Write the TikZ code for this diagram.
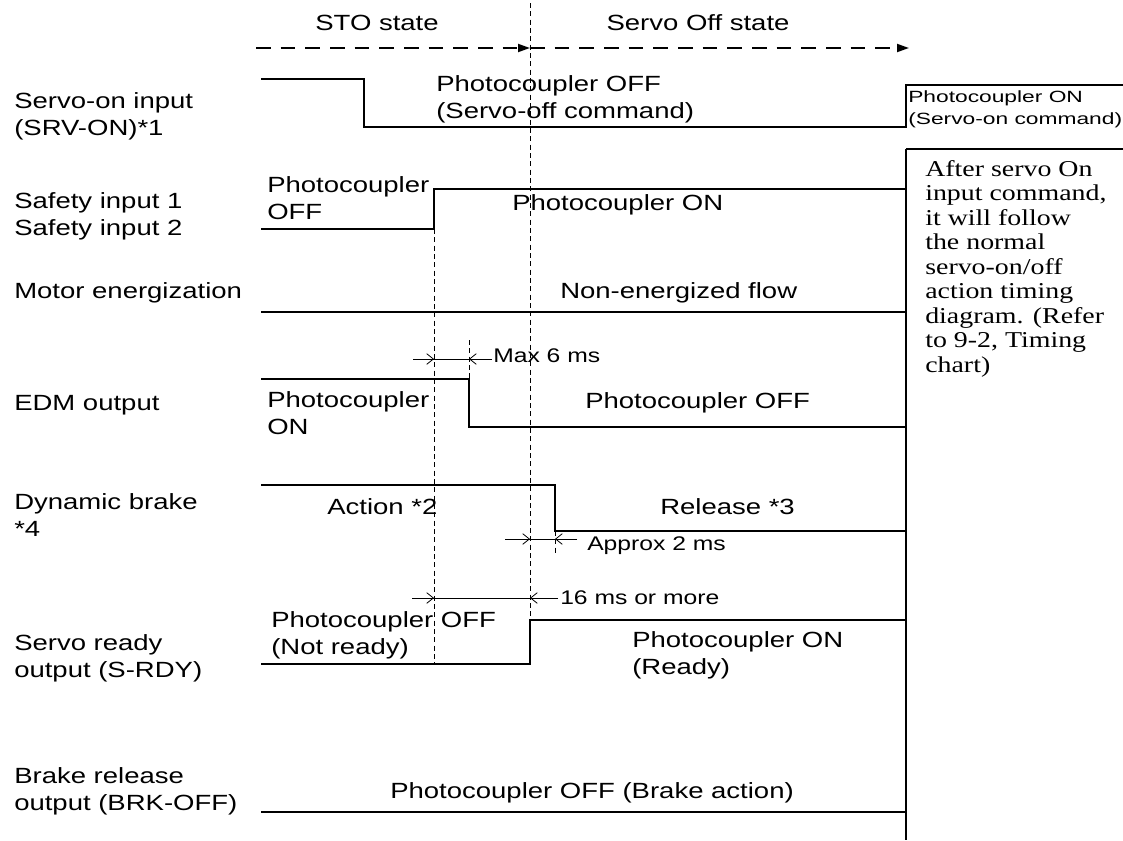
\documentclass[tikz,border=0pt]{standalone}
\usepackage{fontspec}
\setmainfont{Liberation Sans}[FakeStretch=1.25]
\newfontfamily\notefont{Liberation Serif}[FakeStretch=1.23]
\newfontfamily\cmdfont{Liberation Sans}[FakeStretch=1.4]
\usepackage{tikz}
\usetikzlibrary{arrows.meta}

\begin{document}
\begin{tikzpicture}[
    x=0.75pt, y=-0.75pt,
    sig/.style={line width=1.4pt},
    guide/.style={line width=0.6pt, dash pattern=on 3.75pt off 2.5pt},
    stateline/.style={line width=1.4pt, dash pattern=on 11pt off 7.5pt,
                      -{Triangle[length=9pt,width=6pt]}},
    dim/.style={line width=0.6pt},
    dimtip/.style={line width=0.6pt, -{Straight Barb[length=5pt,width=8pt]}},
    lbl/.style={anchor=west, inner sep=0pt, align=left,
                font=\fontsize{16.5}{20.25}\selectfont},
    small/.style={anchor=west, inner sep=0pt, font=\fontsize{14.8}{18}\selectfont},
    cmd/.style={anchor=west, inner sep=0pt, align=left,
                font=\cmdfont\fontsize{12.2}{16.5}\selectfont},
    note/.style={anchor=north west, inner sep=0pt, align=left,
                 font=\notefont\fontsize{17}{18.4}\selectfont}
]
\useasboundingbox (0,0) rectangle (1123,840);

% state arrows
\coordinate (s0) at (256,48);
\coordinate (s1) at (530,48);
\coordinate (s2) at (909,48);
\node[lbl, anchor=center] (sto) at (377,23) {STO state};
\node[lbl, anchor=center] (off) at (698,23) {Servo Off state};
\draw[stateline] (s0) -- (s1);
\draw[stateline] (s1) -- (s2);

% signal names
\node[lbl] (lsrv)  at (14,116.5) {Servo-on input\\(SRV-ON)*1};
\node[lbl] (lsafe) at (14,216.5) {Safety input 1\\Safety input 2};
\node[lbl] (lmot)  at (14,293)   {Motor energization};
\node[lbl] (ledm)  at (14,405)   {EDM output};
\node[lbl] (ldb)   at (14,515)   {Dynamic brake\\*4};
\node[lbl] (lrdy)  at (14,658.5) {Servo ready\\output (S-RDY)};
\node[lbl] (lbrk)  at (14,791.5) {Brake release\\output (BRK-OFF)};

% waveforms
\draw[sig] (261,79) -- (364,79) -- (364,127) -- (906,127) -- (906,85) -- (1123,85);
\draw[sig] (261,229) -- (434,229) -- (434,189) -- (906,189);
\draw[sig] (261,312) -- (906,312);
\draw[sig] (261,379) -- (469,379) -- (469,427) -- (906,427);
\draw[sig] (261,485) -- (555,485) -- (555,531) -- (906,531);
\draw[sig] (261,664) -- (530,664) -- (530,620) -- (906,620);
\draw[sig] (261,812) -- (906,812);

% right box
\draw[sig] (906,149) -- (1123,149);
\draw[line width=2.2pt] (906,149) -- (906,840);

% guides
\draw[guide] (530,3) -- (530,620);
\draw[guide] (434,229) -- (434,664);
\draw[guide] (469,340) -- (469,379);
\draw[guide] (555,531) -- (555,555);

% state texts
\node[lbl] (srvoff)  at (436,99.5)  {Photocoupler OFF\\(Servo-off command)};
\node[cmd] (srvon)   at (908,109)   {Photocoupler ON\\(Servo-on command)};
\node[lbl] (safeoff) at (267,198.5) {Photocoupler\\OFF};
\node[lbl] (safeon)  at (512,205)   {Photocoupler ON};
\node[lbl] (motoff)  at (560,293)   {Non-energized flow};
\node[lbl] (edmon)   at (267,413.5) {Photocoupler\\ON};
\node[lbl] (edmoff)  at (585,403)   {Photocoupler OFF};
\node[lbl] (dbact)   at (327,507)   {Action *2};
\node[lbl] (dbrel)   at (660,507)   {Release *3};
\node[lbl] (rdyoff)  at (271,635)   {Photocoupler OFF\\(Not ready)};
\node[lbl] (rdyon)   at (632,655.5) {Photocoupler ON\\(Ready)};
\node[lbl] (brkoff)  at (390,793)   {Photocoupler OFF (Brake action)};
\node[note] (after)  at (925,160)   {After servo On\\input command,\\it will follow\\the normal\\servo-on/off\\action timing\\diagram. (Refer\\to 9-2, Timing\\chart)};

% timings
\coordinate (m6a) at (413,359);
\coordinate (m6b) at (434,359);
\coordinate (m6c) at (469,359);
\coordinate (m6d) at (492,359);
\draw[dim] (m6a) -- (m6d);
\draw[dimtip] (m6a) -- (m6b);
\draw[dimtip] (m6d) -- (m6c);
\node[small] (max6) at (493,356) {Max 6 ms};

\coordinate (a2a) at (505,539);
\coordinate (a2b) at (530,539);
\coordinate (a2c) at (555,539);
\coordinate (a2d) at (577,539);
\draw[dim] (a2a) -- (a2d);
\draw[dimtip] (a2a) -- (a2b);
\draw[dimtip] (a2d) -- (a2c);
\node[small] (apx2) at (587,546) {Approx 2 ms};

\coordinate (r16a) at (412,598);
\coordinate (r16b) at (434,598);
\coordinate (r16c) at (530,598);
\coordinate (r16d) at (558,598);
\draw[dim] (r16a) -- (r16d);
\draw[dimtip] (r16a) -- (r16b);
\draw[dimtip] (r16d) -- (r16c);
\node[small] (ms16) at (560,598) {16 ms or more};
\end{tikzpicture}
\end{document}
